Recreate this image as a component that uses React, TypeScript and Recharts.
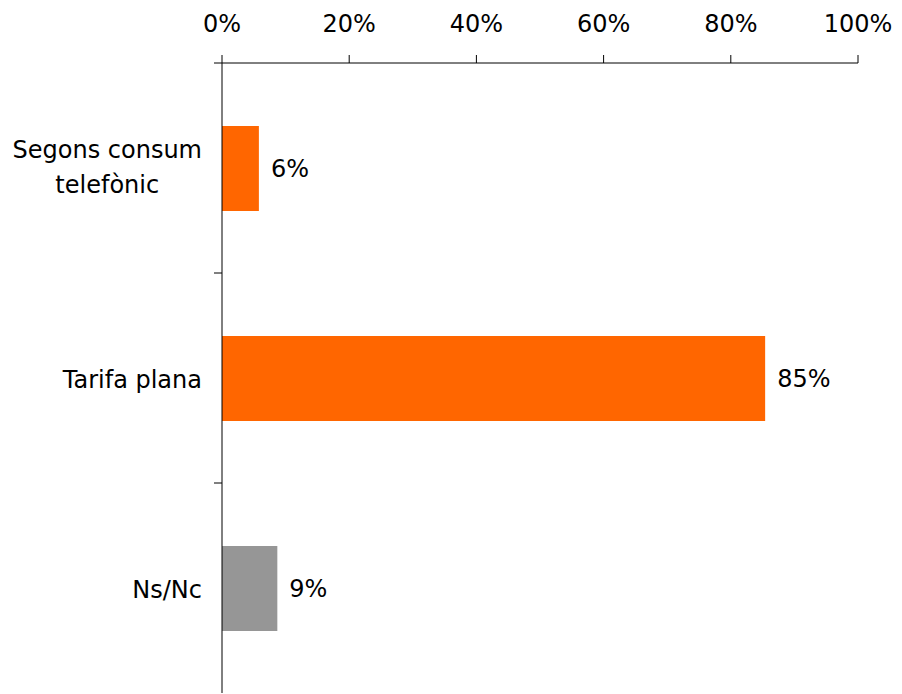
import React from "react";
import { BarChart, Bar, XAxis, YAxis, Cell, LabelList } from "recharts";

const categories = ["Segons consum telefònic", "Tarifa plana", "Ns/Nc"];
const categoryLines = [["Segons consum", "telefònic"], ["Tarifa plana"], ["Ns/Nc"]];
const values = [5.8, 85.4, 8.7];
const valueLabels = ["6%", "85%", "9%"];
const barColors = ["#FF6600", "#FF6600", "#969696"];
const xTicks = [0, 20, 40, 60, 80, 100];

const data = categories.map((c, i) => ({ name: c, value: values[i], label: valueLabels[i] }));

const FONT = "'DejaVu Sans', Verdana, sans-serif";
const FS = 24;

function measure(text: string): number {
  try {
    const cv = document.createElement("canvas");
    const ctx = cv.getContext("2d");
    if (ctx) {
      ctx.font = `${FS}px ${FONT}`;
      return ctx.measureText(text).width;
    }
  } catch (e) {}
  return text.length * FS * 0.6;
}

const YTick = (props: any) => {
  const { x, y, payload, index } = props;
  const lines = categoryLines[index] || [String(payload.value)];
  const off = payload.offset || 0;
  const right = x - 20;
  const w = Math.max(...lines.map(measure));
  const cx = right - w / 2;
  const lh = 35;
  const n = lines.length;
  const startY = y - ((n - 1) * lh) / 2 - (n > 1 ? 2 : 0);
  return (
    <g>
      <line x1={x - 8} x2={x} y1={y - off} y2={y - off} stroke="#000" strokeWidth={1} />
      <text textAnchor="middle" fontFamily={FONT} fontSize={FS} fill="#000">
        {lines.map((l: string, i: number) => (
          <tspan key={i} x={cx} y={startY + i * lh} dy="0.4em">
            {l}
          </tspan>
        ))}
      </text>
    </g>
  );
};

export default function App() {
  return (
    <div style={{ position: "absolute", left: 0, top: 0, background: "#fff" }}>
      <BarChart
        width={902}
        height={694}
        data={data}
        layout="vertical"
        margin={{ top: 0, right: 44, bottom: 1, left: 0 }}
        barSize={85}
      >
        <XAxis
          type="number"
          orientation="top"
          domain={[0, 100]}
          ticks={xTicks}
          tickFormatter={(v: number) => `${v}%`}
          height={63}
          tickSize={8}
          tickMargin={23}
          axisLine={{ stroke: "#000", strokeWidth: 1 }}
          tickLine={{ stroke: "#000", strokeWidth: 1 }}
          tick={{ fill: "#000", fontSize: FS, fontFamily: FONT }}
          interval={0}
        />
        <YAxis
          type="category"
          dataKey="name"
          width={222}
          axisLine={{ stroke: "#000", strokeWidth: 1 }}
          tickLine={false}
          tickSize={0}
          tickMargin={0}
          tick={<YTick />}
          interval={0}
        />
        <Bar dataKey="value" isAnimationActive={false}>
          {data.map((d, i) => (
            <Cell key={i} fill={barColors[i]} />
          ))}
          <LabelList
            dataKey="label"
            position="right"
            offset={12}
            fill="#000"
            fontSize={FS}
            fontFamily={FONT}
          />
        </Bar>
      </BarChart>
    </div>
  );
}
